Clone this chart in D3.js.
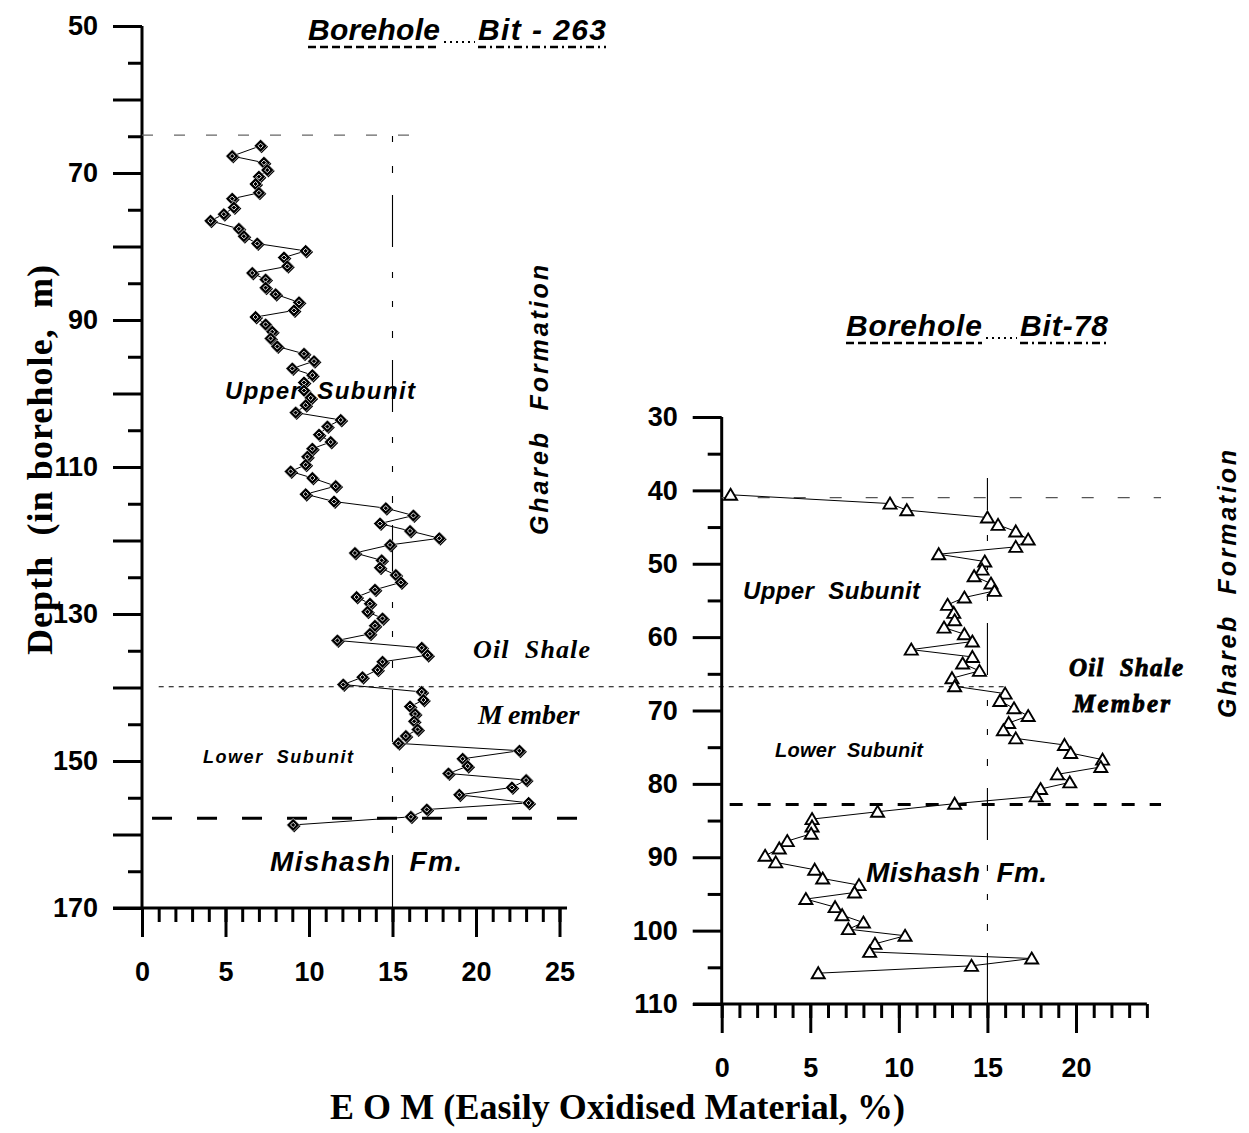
<!DOCTYPE html>
<html>
<head>
<meta charset="utf-8">
<script src="https://cdn.jsdelivr.net/npm/d3@7"></script>
<style>
  body { margin: 0; background: #fff; }
  svg { display: block; }
  text { white-space: pre; }
</style>
</head>
<body>
<svg id="chart" width="1249" height="1133"></svg>
<script>
// Borehole Bit-263: EOM (%) versus depth (m)
const bit263Eom = [7.1,5.4,7.3,7.5,7.0,6.8,7.0,5.4,5.5,4.9,
  4.1,5.8,6.1,6.9,9.8,8.5,8.7,6.6,7.4,7.4,
  8.0,9.4,9.1,6.8,7.4,7.8,7.7,8.1,9.7,10.3,
  9.0,10.2,9.7,9.7,10.1,9.8,9.2,11.9,11.1,10.6,
  11.3,10.2,9.9,9.8,8.9,10.2,11.6,9.8,11.5,14.6,
  16.25,14.25,16.05,17.8,14.85,12.75,14.35,14.25,15.2,15.5,
  13.95,12.85,13.65,13.5,14.4,13.95,13.65,11.7,16.75,17.1,
  14.4,14.1,13.2,12.05,16.75,16.85,16.05,16.35,16.3,16.5,
  15.8,15.35,22.6,19.2,19.5,18.35,23.0,22.15,19.0,23.15,
  17.05,16.1,9.05];
const bit263Depth = [66.3,67.7,68.6,69.6,70.5,71.5,72.7,73.5,74.7,75.6,
  76.5,77.6,78.6,79.6,80.6,81.5,82.7,83.6,84.5,85.6,
  86.5,87.6,88.7,89.6,90.6,91.6,92.5,93.6,94.6,95.6,
  96.6,97.5,98.5,99.6,100.6,101.6,102.6,103.6,104.5,105.6,
  106.6,107.5,108.6,109.7,110.6,111.5,112.6,113.7,114.7,115.6,
  116.6,117.7,118.7,119.7,120.6,121.7,122.7,123.7,124.7,125.7,
  126.7,127.7,128.6,129.7,130.6,131.6,132.7,133.6,134.6,135.6,
  136.5,137.6,138.6,139.6,140.6,141.7,142.6,143.6,144.6,145.7,
  146.6,147.6,148.6,149.7,150.7,151.7,152.6,153.6,154.6,155.7,
  156.6,157.6,158.7];

// Borehole Bit-78: EOM (%) versus depth (m)
const bit78Eom = [0.5,9.5,10.45,15.0,15.6,16.6,17.3,16.6,12.25,14.85,
  14.7,14.25,15.2,15.4,13.7,12.75,13.1,13.15,12.55,13.7,
  14.15,10.7,14.15,13.6,14.55,13.0,13.15,16.0,15.7,16.5,
  17.3,16.2,15.9,16.6,19.35,19.7,21.5,21.4,18.95,19.65,
  18.0,17.75,13.15,8.8,5.1,5.1,5.05,3.7,3.25,2.45,
  3.05,5.25,5.7,7.75,7.5,4.75,6.4,6.8,8.0,7.15,
  10.35,8.65,8.35,17.5,14.1,5.45];
const bit78Depth = [40.6,41.8,42.7,43.7,44.7,45.6,46.7,47.7,48.7,49.7,
  50.8,51.7,52.7,53.7,54.6,55.6,56.7,57.7,58.7,59.6,
  60.6,61.7,62.7,63.6,64.6,65.6,66.7,67.7,68.7,69.7,
  70.75,71.7,72.7,73.8,74.7,75.8,76.7,77.7,78.7,79.8,
  80.7,81.7,82.7,83.8,84.8,85.8,86.8,87.8,88.8,89.8,
  90.7,91.7,92.9,93.8,94.8,95.7,96.8,97.9,98.9,99.8,
  100.7,101.8,102.9,103.8,104.8,105.8];

// Tick values
const depthLabels263 = [50,70,90,110,130,150,170];
const depthMajor263 = d3.range(50,171,10);
const depthMinor263 = d3.range(55,171,10);
const eomLabels263 = [0,5,10,15,20,25];
const eomMinor263 = d3.range(0,26,1);

const depthLabels78 = d3.range(30,111,10);
const depthMinor78 = d3.range(35,111,10);
const eomLabels78 = [0,5,10,15,20];
const eomMinor78 = d3.range(0,25,1);

// Boundary depths
const topOilShale263 = 64.85, baseUpper263 = 139.9, baseOilShale263 = 157.8;
const topOilShale78 = 41.0, baseOilShale78 = 82.8;
const eomCutoff = 15;

const svg = d3.select("#chart");
const SANS = "'Liberation Sans', Arial, Helvetica, sans-serif";
const SERIF = "'Liberation Serif', 'Times New Roman', Times, serif";

// Scales
const xL = d3.scaleLinear().domain([0,25]).range([142,559.5]);
const yL = d3.scaleLinear().domain([50,170]).range([26,908]);
const xR = d3.scaleLinear().domain([0,20]).range([721.7,1076]);
const yR = d3.scaleLinear().domain([30,110]).range([417,1004]);

function styleAxis(g, size) {
  g.select(".domain").remove();
  g.selectAll(".tick line").attr("stroke","#000").attr("stroke-width",3);
  g.selectAll(".tick text").attr("font-family",SANS).attr("font-weight","bold")
    .attr("font-size",size).attr("fill","#000");
}

function drawAxes(x, y, depthMajor, depthMinor, depthLabels, eomLabels, eomMinor, xStart, xEnd) {
  const d0 = y.domain()[0], d1 = y.domain()[1];
  // minor depth ticks
  svg.append("g").attr("transform",`translate(${x(0)},0)`)
    .call(d3.axisLeft(y).tickValues(depthMinor).tickSize(14).tickFormat(""))
    .call(g => styleAxis(g, 27));
  // major depth ticks with labels
  svg.append("g").attr("transform",`translate(${x(0)},0)`)
    .call(d3.axisLeft(y).tickValues(depthMajor).tickSize(29).tickPadding(15)
      .tickFormat(d => depthLabels.includes(d) ? d : ""))
    .call(g => styleAxis(g, 27));
  // minor EOM ticks
  svg.append("g").attr("transform",`translate(0,${y(d1)})`)
    .call(d3.axisBottom(x).tickValues(eomMinor).tickSize(14).tickFormat(""))
    .call(g => styleAxis(g, 27));
  // major EOM ticks with labels
  svg.append("g").attr("transform",`translate(0,${y(d1)})`)
    .call(d3.axisBottom(x).tickValues(eomLabels).tickSize(29).tickPadding(25).tickFormat(d3.format("d")))
    .call(g => styleAxis(g, 27));
  // axis lines
  svg.append("line").attr("x1",x(0)).attr("x2",x(0)).attr("y1",y(d0)).attr("y2",y(d1))
    .attr("stroke","#000").attr("stroke-width",3);
  svg.append("line").attr("x1",xStart).attr("x2",x(xEnd)).attr("y1",y(d1)).attr("y2",y(d1))
    .attr("stroke","#000").attr("stroke-width",3);
}

drawAxes(xL, yL, depthMajor263, depthMinor263, depthLabels263, eomLabels263, eomMinor263, 113, 25.45);
drawAxes(xR, yR, depthLabels78, depthMinor78, depthLabels78, eomLabels78, eomMinor78, 693, 24);

// Horizontal boundary lines
function hline(x1, x2, yv, dash, width, color) {
  svg.append("line").attr("x1",x1).attr("x2",x2).attr("y1",yv).attr("y2",yv)
    .attr("stroke",color).attr("stroke-width",width).attr("stroke-dasharray",dash);
}
// top of the oil shale member
hline(xL(0), xL(17), yL(topOilShale263), "11,21", 1.4, "#666");
hline(xR(0), xR(24.8), yR(topOilShale78), "12,24", 1.3, "#555");
// upper / lower subunit boundary, traced across both boreholes
hline(xL(1), xR(16.2), yL(baseUpper263), "5,5", 1.2, "#000");
// base of the oil shale member
hline(xL(0.6), xL(26.1), yL(baseOilShale263), "20,25", 3, "#000");
hline(xR(0.45), xR(24.8), yR(baseOilShale78), "13,15", 3, "#000");

// EOM cut-off lines (dash-dot-dot-dot)
const cutDash = "52,25,6,23,6,24,7,22";
function vline(x, y, dStart, dEnd, dLong) {
  const y0 = y(dStart), y1 = y(dEnd);
  const period = 165;
  const off = ((y0 - y(dLong)) % period + period) % period;
  svg.append("line").attr("x1",x(eomCutoff)).attr("x2",x(eomCutoff)).attr("y1",y0).attr("y2",y1)
    .attr("stroke","#000").attr("stroke-width",1.1)
    .attr("stroke-dasharray",cutDash).attr("stroke-dashoffset",off);
}
vline(xL, yL, topOilShale263, 170, 73.0);
vline(xR, yR, 38.3, 110, 58.07);

// Data lines and markers
function series(x, y, eom, depth) {
  const pts = eom.map((e,i) => [x(e), y(depth[i])]);
  svg.append("path").attr("d", d3.line()(pts)).attr("fill","none")
    .attr("stroke","#000").attr("stroke-width",1);
  return pts;
}
const pL = series(xL, yL, bit263Eom, bit263Depth);
const pR = series(xR, yR, bit78Eom, bit78Depth);

const gD = svg.append("g");
pL.forEach(([px,py]) => {
  const m = gD.append("g").attr("transform",`translate(${px},${py})`);
  m.append("path").attr("d","M1,-5.5L7.5,1L1,7.5L-5.5,1Z").attr("fill","#000");
  m.append("path").attr("d","M0,-6.5L6.5,0L0,6.5L-6.5,0Z").attr("fill","#000")
    .attr("stroke","#fff").attr("stroke-width",0.6);
  m.append("path").attr("d","M0,-2.6L2.6,0L0,2.6L-2.6,0Z").attr("fill","none")
    .attr("stroke","#fff").attr("stroke-width",0.9);
});
const gT = svg.append("g");
pR.forEach(([px,py]) => {
  gT.append("path").attr("transform",`translate(${px},${py})`)
    .attr("d","M0,-6L6.5,5L-6.5,5Z").attr("fill","#fff")
    .attr("stroke","#000").attr("stroke-width",1.9).attr("stroke-linejoin","miter");
});

// Text helper
function label(txt, x, y, opts) {
  const t = svg.append("text").attr("x",x).attr("y",y).text(txt)
    .attr("font-family",opts.family || SANS)
    .attr("font-size",opts.size)
    .attr("font-weight",opts.weight || "bold")
    .attr("font-style",opts.style || "italic")
    .attr("fill","#000");
  if (opts.len) t.attr("textLength",opts.len).attr("lengthAdjust","spacing");
  if (opts.anchor) t.attr("text-anchor",opts.anchor);
  if (opts.rotate) t.attr("transform",`rotate(-90,${x},${y})`);
  if (opts.stroke) t.attr("stroke","#000").attr("stroke-width",opts.stroke);
  return t;
}

// Titles with broken underline
function title(word1, word2, x1, w1, x2, w2, base) {
  label(word1, x1, base, {size:30, len:w1});
  label(word2, x2, base, {size:30, len:w2});
  const u = base + 7;
  svg.append("line").attr("x1",x1).attr("x2",x1+w1).attr("y1",u).attr("y2",u)
    .attr("stroke","#000").attr("stroke-width",2.6).attr("stroke-dasharray","8,4");
  svg.append("line").attr("x1",x2).attr("x2",x2+w2).attr("y1",u).attr("y2",u)
    .attr("stroke","#000").attr("stroke-width",2.6).attr("stroke-dasharray","8,4,2,4");
  svg.append("line").attr("x1",x1+w1+4).attr("x2",x2-3).attr("y1",base+2).attr("y2",base+2)
    .attr("stroke","#000").attr("stroke-width",2).attr("stroke-dasharray","2,4");
}
title("Borehole", "Bit - 263", 308, 132, 478, 128, 40);
title("Borehole", "Bit-78", 846, 136, 1020, 88, 336);

// Axis titles
label("Depth  (in borehole,  m)", 52, 655, {family:SERIF, size:36, style:"normal", len:390, rotate:true});
label("E O M (Easily Oxidised Material, %)", 330, 1119, {family:SERIF, size:36, style:"normal", len:575});

// Formation labels
label("Ghareb  Formation", 548, 535, {size:25, len:270, rotate:true});
label("Ghareb  Formation", 1236, 718, {size:25, len:268, rotate:true});

// Bit-263 unit labels
label("Upper  Subunit", 225, 399, {size:24, len:190});
label("Lower  Subunit", 203, 763, {size:18, len:150});
label("Mishash  Fm.", 270, 871, {size:28, len:192});
label("Oil  Shale", 473, 658, {family:SERIF, size:26, len:117});
const mem = label("", 478, 724, {family:SERIF, size:28});
mem.append("tspan").text("M");
mem.append("tspan").attr("dx",5).text("ember");

// Bit-78 unit labels
label("Upper  Subunit", 743, 599, {size:24, len:177});
label("Lower  Subunit", 775, 757, {size:20, len:148});
label("Mishash  Fm.", 866, 882, {size:28, len:181});
label("Oil  Shale", 1069, 676, {family:SERIF, size:25, len:114, stroke:0.9});
label("Member", 1073, 712, {family:SERIF, size:25, len:97, stroke:0.9});
</script>
</body>
</html>
